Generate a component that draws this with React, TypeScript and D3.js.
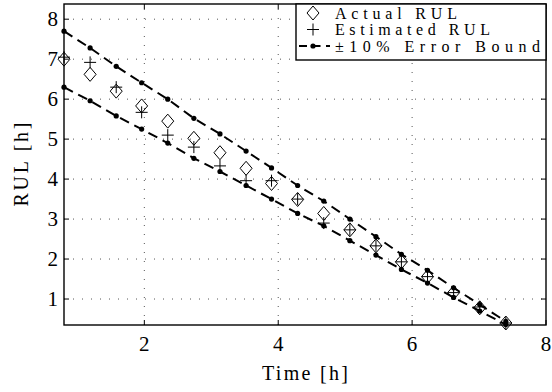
import React, { useEffect, useRef } from 'react'
import * as d3 from 'd3'

// time stamps [h]
const times = [0.8, 1.19, 1.58, 1.96, 2.35, 2.74, 3.13, 3.52, 3.9, 4.29, 4.68, 5.07, 5.46, 5.84, 6.23, 6.62, 7.01, 7.4]
const actualRUL = [7.0, 6.62, 6.2, 5.83, 5.45, 5.02, 4.66, 4.27, 3.89, 3.49, 3.14, 2.73, 2.33, 1.93, 1.56, 1.16, 0.78, 0.4]
const estimatedRUL = [7.05, 6.92, 6.3, 5.67, 5.1, 4.8, 4.33, 3.96, 3.96, 3.5, 2.9, 2.73, 2.33, 1.93, 1.56, 1.16, 0.8, 0.4]
const upperBound = [7.7, 7.28, 6.82, 6.41, 6.0, 5.52, 5.13, 4.7, 4.28, 3.84, 3.45, 3.0, 2.56, 2.12, 1.72, 1.28, 0.86, 0.44]
const lowerBound = [6.3, 5.96, 5.58, 5.25, 4.9, 4.52, 4.19, 3.84, 3.5, 3.14, 2.83, 2.46, 2.1, 1.74, 1.4, 1.04, 0.7, 0.36]

const xTicks = [2, 4, 6, 8]
const yTicks = [1, 2, 3, 4, 5, 6, 7, 8]
const legendLabels = ['Actual RUL', 'Estimated RUL', '\u00b110% Error Bound']

const W = 552
const H = 392
const margin = { top: 4, right: 6, bottom: 67, left: 64 }
const font = 'Liberation Serif, DejaVu Serif, serif'

export default function App() {
    const ref = useRef<SVGSVGElement>(null)

    useEffect(() => {
        const svg = d3.select(ref.current)
        svg.selectAll('*').remove()

        const x = d3.scaleLinear().domain([0.8, 8]).range([margin.left, W - margin.right])
        const y = d3.scaleLinear().domain([0.35, 8.38]).range([H - margin.bottom, margin.top])
        const [x0, x1] = x.range()
        const [y0, y1] = y.range()

        svg.append('rect')
            .attr('x', 0).attr('y', 0).attr('width', W).attr('height', H)
            .attr('fill', '#fff')

        // grid
        const grid = svg.append('g')
            .attr('stroke', '#555')
            .attr('stroke-width', 1)
            .attr('stroke-dasharray', '1,8')
        grid.selectAll('line.gx')
            .data(xTicks.filter(t => t < 8))
            .join('line')
            .attr('class', 'gx')
            .attr('x1', d => x(d)).attr('x2', d => x(d))
            .attr('y1', y0).attr('y2', y1)
        grid.selectAll('line.gy')
            .data(yTicks)
            .join('line')
            .attr('class', 'gy')
            .attr('x1', x0).attr('x2', x1)
            .attr('y1', d => y(d)).attr('y2', d => y(d))

        // ticks (inside, on all four sides)
        const ticks = svg.append('g').attr('stroke', '#000').attr('stroke-width', 1)
        xTicks.forEach(t => {
            ticks.append('line').attr('x1', x(t)).attr('x2', x(t)).attr('y1', y0).attr('y2', y0 - 5)
            ticks.append('line').attr('x1', x(t)).attr('x2', x(t)).attr('y1', y1).attr('y2', y1 + 5)
        })
        yTicks.forEach(t => {
            ticks.append('line').attr('x1', x0).attr('x2', x0 + 5).attr('y1', y(t)).attr('y2', y(t))
            ticks.append('line').attr('x1', x1).attr('x2', x1 - 5).attr('y1', y(t)).attr('y2', y(t))
        })

        // tick labels
        svg.append('g')
            .selectAll('text')
            .data(xTicks)
            .join('text')
            .attr('x', d => x(d))
            .attr('y', 351)
            .attr('text-anchor', 'middle')
            .style('font-family', font)
            .attr('font-size', 21)
            .text(d => d)
        svg.append('g')
            .selectAll('text')
            .data(yTicks)
            .join('text')
            .attr('x', x0 - 6)
            .attr('y', d => y(d) + 7)
            .attr('text-anchor', 'end')
            .style('font-family', font)
            .attr('font-size', 21)
            .text(d => d)

        // axis titles
        svg.append('text')
            .attr('x', (x0 + x1) / 2)
            .attr('y', 380)
            .attr('text-anchor', 'middle')
            .style('font-family', font)
            .attr('font-size', 20)
            .attr('textLength', 86)
            .text('Time [h]')
        svg.append('text')
            .attr('transform', `translate(28,${(y0 + y1) / 2}) rotate(-90)`)
            .attr('text-anchor', 'middle')
            .style('font-family', font)
            .attr('font-size', 20)
            .attr('textLength', 84)
            .text('RUL [h]')

        const pts = (vals: number[]) => times.map((t, i) => [t, vals[i]] as [number, number])
        const line = d3.line<[number, number]>().x(d => x(d[0])).y(d => y(d[1]))

        const plot = svg.append('g')

        // error bounds
        ;[upperBound, lowerBound].forEach(vals => {
            plot.append('path')
                .datum(pts(vals))
                .attr('d', line)
                .attr('fill', 'none')
                .attr('stroke', '#000')
                .attr('stroke-width', 2)
                .attr('stroke-dasharray', '10,6')
            plot.append('g')
                .selectAll('circle')
                .data(pts(vals))
                .join('circle')
                .attr('cx', d => x(d[0]))
                .attr('cy', d => y(d[1]))
                .attr('r', 2.6)
                .attr('fill', '#000')
        })

        // actual RUL diamonds
        const diamond = (cx: number, cy: number) => `M${cx},${cy - 7}L${cx + 6},${cy}L${cx},${cy + 7}L${cx - 6},${cy}Z`
        plot.append('g')
            .selectAll('path')
            .data(pts(actualRUL))
            .join('path')
            .attr('d', d => diamond(x(d[0]), y(d[1])))
            .attr('fill', 'none')
            .attr('stroke', '#000')
            .attr('stroke-width', 1)

        // estimated RUL pluses
        const plus = (cx: number, cy: number) => `M${cx - 6},${cy}H${cx + 6}M${cx},${cy - 6}V${cy + 6}`
        plot.append('g')
            .selectAll('path')
            .data(pts(estimatedRUL))
            .join('path')
            .attr('d', d => plus(x(d[0]), y(d[1])))
            .attr('fill', 'none')
            .attr('stroke', '#000')
            .attr('stroke-width', 1)

        // frame
        svg.append('rect')
            .attr('x', x0).attr('y', y1)
            .attr('width', x1 - x0).attr('height', y0 - y1)
            .attr('fill', 'none')
            .attr('stroke', '#000')
            .attr('stroke-width', 1.4)

        // legend
        const lx = 296
        const ly = y1
        const lw = x1 - lx
        const lh = 56
        const lg = svg.append('g')
        lg.append('rect')
            .attr('x', lx).attr('y', ly).attr('width', lw).attr('height', lh)
            .attr('fill', '#fff')
            .attr('stroke', '#000')
            .attr('stroke-width', 1.4)
        const rowY = [13, 29.5, 46]
        const widths = [122, 155, 205]
        lg.selectAll('text')
            .data(legendLabels)
            .join('text')
            .attr('x', 335)
            .attr('y', (_, i) => rowY[i] + 5.5)
            .style('font-family', font)
            .attr('font-size', 16)
            .attr('textLength', (_, i) => widths[i])
            .text(d => d)
        const mx = 313
        lg.append('path')
            .attr('d', diamond(mx, rowY[0]))
            .attr('fill', 'none').attr('stroke', '#000')
        lg.append('path')
            .attr('d', plus(mx, rowY[1]))
            .attr('fill', 'none').attr('stroke', '#000')
        lg.append('line')
            .attr('x1', 299).attr('x2', 330)
            .attr('y1', rowY[2]).attr('y2', rowY[2])
            .attr('stroke', '#000')
            .attr('stroke-width', 2)
            .attr('stroke-dasharray', '8,5.5')
        lg.append('circle')
            .attr('cx', mx).attr('cy', rowY[2]).attr('r', 2.6)
            .attr('fill', '#000')
    }, [])

    return (
        <div style={{ position: 'absolute', left: 0, top: 0 }}>
            <svg ref={ref} width={W} height={H}></svg>
        </div>
    )
}
